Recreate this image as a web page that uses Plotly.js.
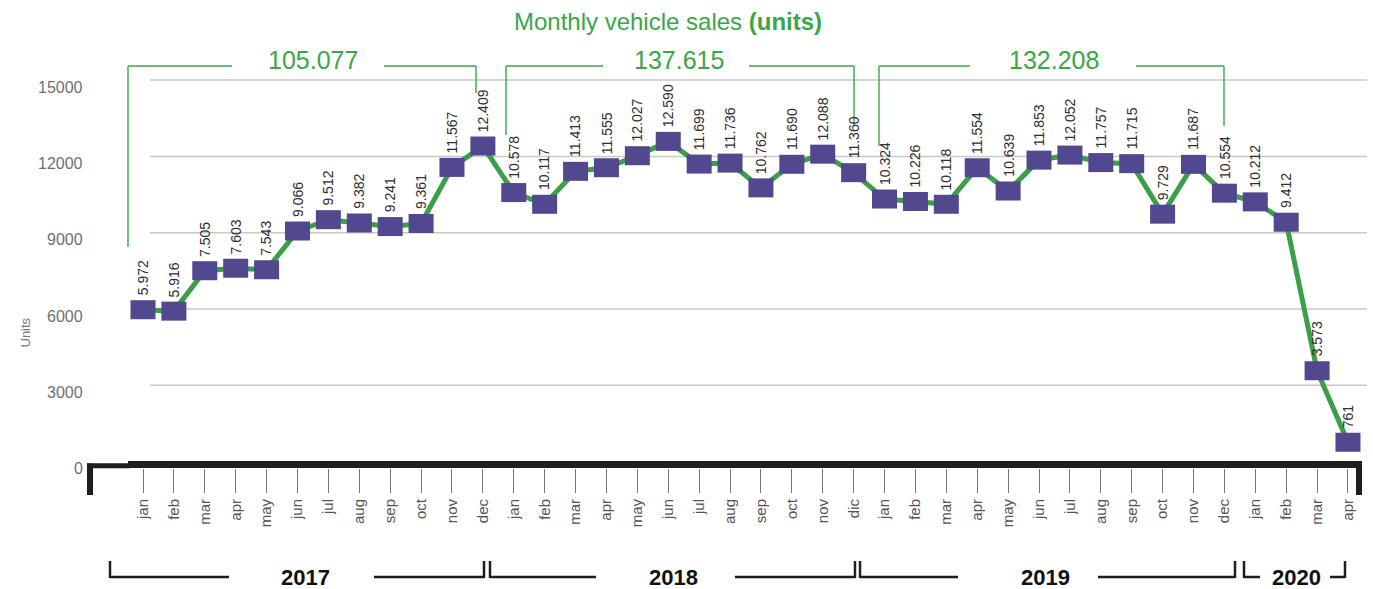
<!DOCTYPE html>
<html><head><meta charset="utf-8">
<script src="https://cdn.plot.ly/plotly-3.0.1.min.js"></script>
<style>html,body{margin:0;padding:0;background:#fff;}#chart{width:1373px;height:589px;}</style>
</head><body><div id="chart"></div>
<script>
// ---------------- data ----------------
const months = ['jan','feb','mar','apr','may','jun','jul','aug','sep','oct','nov','dec',
  'jan','feb','mar','apr','may','jun','jul','aug','sep','oct','nov','dic',
  'jan','feb','mar','apr','may','jun','jul','aug','sep','oct','nov','dec',
  'jan','feb','mar','apr'];
const sales2017 = [5972,5916,7505,7603,7543,9066,9512,9382,9241,9361,11567,12409];
const sales2018 = [10578,10117,11413,11555,12027,12590,11699,11736,10762,11690,12088,11360];
const sales2019 = [10324,10226,10118,11554,10639,11853,12052,11757,11715,9729,11687,10554];
const sales2020 = [10212,9412,3573,761];
const years = ['2017','2018','2019','2020'];
const yearTotals = ['105.077','137.615','132.208'];
const yTickVals = [0,3000,6000,9000,12000,15000];
const yTickText = ['0','3000','6000','9000','12000','15000'];

// ---------------- layout geometry ----------------
const W = 1373, H = 589;
const ML = 86, MR = 6;
const P0 = 143, DX = 30.897;          // pixel of first point, spacing
const Y0 = 461.6, K = 76.3 / 3000;    // pixel of value 0, px per unit
const PX = px => (px - ML) / (W - ML - MR);
const PY = py => (H - py) / H;

const GREEN = '#3aa648', LINEG = '#3a9f47', PURPLE = '#51488f', DARK = '#1e1e1e';
const SANS = '"Liberation Sans", Arial, Helvetica, sans-serif';

const values = [].concat(sales2017, sales2018, sales2019, sales2020);
const idx = values.map((_, i) => i);
const fmt = n => String(n).replace(/\B(?=(\d{3})+(?!\d))/g, '.');

const shapes = [];
const annotations = [];

// gridlines
yTickVals.filter(v => v > 0).forEach(v => shapes.push({
  type: 'line', xref: 'paper', yref: 'y', x0: PX(150), x1: 1, y0: v, y1: v,
  line: {color: '#c8c8c8', width: 1.5}, layer: 'below'
}));

// y tick labels
yTickVals.forEach((v, i) => annotations.push({
  xref: 'paper', yref: 'y', x: 0, y: v, xanchor: 'right', yanchor: 'middle',
  xshift: -1, yshift: -7, showarrow: false, text: yTickText[i],
  font: {family: SANS, size: 16, color: '#707070'}
}));
annotations.push({
  xref: 'paper', yref: 'paper', x: PX(15), y: PY(333), textangle: -90, showarrow: false,
  text: 'Units', font: {family: SANS, size: 13, color: '#777'}
});

// thick x axis line with hooks
const seg = (x0, y0, x1, y1, w, c) => shapes.push({
  type: 'line', xref: 'paper', yref: 'paper', x0: PX(x0), x1: PX(x1), y0: PY(y0), y1: PY(y1),
  line: {color: c, width: w}
});
seg(128, 464.4, 1362, 464.4, 7, DARK);
seg(87, 465.8, 130, 465.8, 5, DARK);
seg(90, 463.5, 90, 495, 6, DARK);
seg(1359, 461, 1359, 495, 6, DARK);

// top total brackets (layout positions)
const topBr = [
  {l: 128, lb: 247, r: 476, rb: 93, c: 313, g0: 232, g1: 384},
  {l: 506, lb: 135, r: 854, rb: 126, c: 679, g0: 603, g1: 749},
  {l: 879, lb: 146, r: 1224, rb: 126, c: 1054, g0: 970, g1: 1136}
];
topBr.forEach((b, i) => {
  const gw = 1.4;
  seg(b.l, 66, b.l, b.lb, gw, GREEN);
  seg(b.l, 66, b.g0, 66, gw, GREEN);
  seg(b.g1, 66, b.r, 66, gw, GREEN);
  seg(b.r, 66, b.r, b.rb, gw, GREEN);
  annotations.push({
    xref: 'paper', yref: 'paper', x: PX(b.c), y: PY(60), xanchor: 'center', yanchor: 'middle',
    showarrow: false, text: yearTotals[i], font: {family: SANS, size: 25, color: GREEN}
  });
});

// bottom year brackets
const yearBr = [
  {l: 110, r: 484, c: 305, g0: 229, g1: 374},
  {l: 490, r: 855, c: 673, g0: 596, g1: 735},
  {l: 860, r: 1235, c: 1045, g0: 958, g1: 1098},
  {l: 1244, r: 1345, c: 1296, g0: 1260, g1: 1330}
];
yearBr.forEach((b, i) => {
  const bw = 2.5;
  seg(b.l, 561, b.l, 578, bw, DARK);
  seg(b.l, 577, b.g0, 577, bw, DARK);
  seg(b.g1, 577, b.r, 577, bw, DARK);
  seg(b.r, 561, b.r, 578, bw, DARK);
  annotations.push({
    xref: 'paper', yref: 'paper', x: PX(b.c), y: PY(577), xanchor: 'center', yanchor: 'middle',
    showarrow: false, text: '<b>' + years[i] + '</b>', font: {family: SANS, size: 22, color: '#111'}
  });
});

// markers (rectangles anchored at data points)
values.forEach((v, i) => shapes.push({
  type: 'rect', xref: 'x', yref: 'y', xsizemode: 'pixel', ysizemode: 'pixel',
  xanchor: i, yanchor: v, x0: -12.5, x1: 12.5, y0: -9.5, y1: 9.5,
  fillcolor: PURPLE, line: {width: 0}, layer: 'above'
}));

// data labels
values.forEach((v, i) => annotations.push({
  xref: 'x', yref: 'y', x: i, y: v, xanchor: 'center', yanchor: 'bottom', yshift: 12,
  textangle: -90, showarrow: false, text: fmt(v),
  font: {family: SANS, size: 14, color: '#2e2e2e'}
}));

const trace = {
  type: 'scatter', mode: 'lines', x: idx, y: values,
  line: {color: LINEG, width: 5}, cliponaxis: false, hoverinfo: 'skip', showlegend: false
};

const layout = {
  width: W, height: H,
  margin: {l: ML, r: MR, t: 0, b: 0},
  paper_bgcolor: '#fff', plot_bgcolor: 'rgba(0,0,0,0)',
  showlegend: false,
  title: {
    text: 'Monthly vehicle sales <b>(units)</b>',
    x: 668 / W, xanchor: 'center', xref: 'container',
    y: 1 - 22 / H, yanchor: 'middle', yref: 'container',
    font: {family: SANS, size: 24, color: GREEN}
  },
  xaxis: {
    range: [(ML - P0) / DX, (W - MR - P0) / DX],
    anchor: 'free', position: (H - 468) / H,
    tickmode: 'array', tickvals: idx, ticktext: months, tickangle: -90,
    ticks: 'outside', ticklen: 24, tickcolor: '#777', tickwidth: 1,
    tickfont: {family: SANS, size: 15, color: '#555'},
    showgrid: false, zeroline: false, showline: false, fixedrange: true
  },
  yaxis: {
    range: [-(H - Y0) / K, Y0 / K],
    visible: false, showgrid: false, zeroline: false, fixedrange: true
  },
  shapes: shapes,
  annotations: annotations
};

Plotly.newPlot('chart', [trace], layout, {displayModeBar: false, staticPlot: true});
</script>
</body></html>
